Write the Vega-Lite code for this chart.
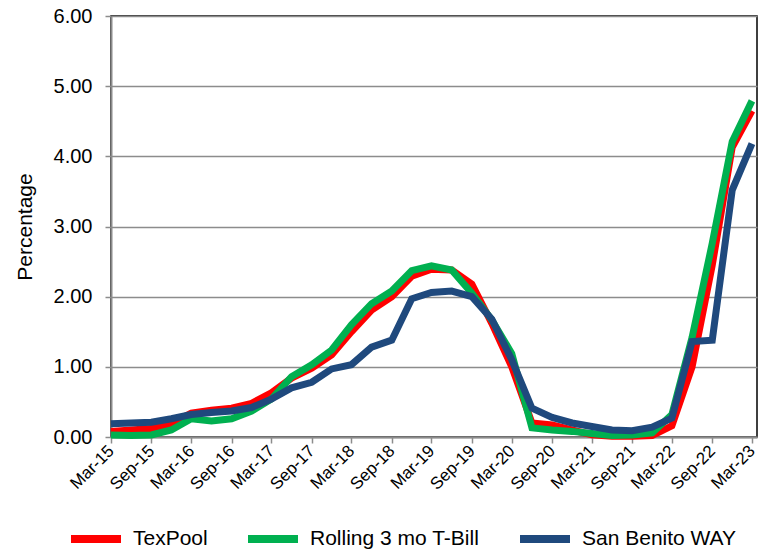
{
  "$schema": "https://vega.github.io/schema/vega-lite/v6.json",
  "width": 646,
  "height": 421,
  "autosize": {"type": "none"},
  "padding": {"left": 111, "top": 16, "right": 5, "bottom": 116},
  "background": "white",
  "config": {
    "font": "Liberation Sans",
    "view": {"stroke": "#000000", "strokeWidth": 1.5}
  },
  "data": {
    "values": [
      {"date": "2015-03-01", "TexPool": 0.08, "Rolling 3 mo T-Bill": 0.03, "San Benito WAY": 0.19},
      {"date": "2015-06-01", "TexPool": 0.10, "Rolling 3 mo T-Bill": 0.02, "San Benito WAY": 0.20},
      {"date": "2015-09-01", "TexPool": 0.12, "Rolling 3 mo T-Bill": 0.03, "San Benito WAY": 0.21},
      {"date": "2015-12-01", "TexPool": 0.19, "Rolling 3 mo T-Bill": 0.10, "San Benito WAY": 0.26},
      {"date": "2016-03-01", "TexPool": 0.34, "Rolling 3 mo T-Bill": 0.26, "San Benito WAY": 0.32},
      {"date": "2016-06-01", "TexPool": 0.38, "Rolling 3 mo T-Bill": 0.23, "San Benito WAY": 0.35},
      {"date": "2016-09-01", "TexPool": 0.41, "Rolling 3 mo T-Bill": 0.26, "San Benito WAY": 0.37},
      {"date": "2016-12-01", "TexPool": 0.48, "Rolling 3 mo T-Bill": 0.37, "San Benito WAY": 0.42},
      {"date": "2017-03-01", "TexPool": 0.63, "Rolling 3 mo T-Bill": 0.54, "San Benito WAY": 0.54},
      {"date": "2017-06-01", "TexPool": 0.84, "Rolling 3 mo T-Bill": 0.86, "San Benito WAY": 0.70},
      {"date": "2017-09-01", "TexPool": 0.98, "Rolling 3 mo T-Bill": 1.03, "San Benito WAY": 0.78},
      {"date": "2017-12-01", "TexPool": 1.17, "Rolling 3 mo T-Bill": 1.24, "San Benito WAY": 0.97},
      {"date": "2018-03-01", "TexPool": 1.50, "Rolling 3 mo T-Bill": 1.60, "San Benito WAY": 1.03},
      {"date": "2018-06-01", "TexPool": 1.81, "Rolling 3 mo T-Bill": 1.90, "San Benito WAY": 1.28},
      {"date": "2018-09-01", "TexPool": 2.00, "Rolling 3 mo T-Bill": 2.08, "San Benito WAY": 1.38},
      {"date": "2018-12-01", "TexPool": 2.29, "Rolling 3 mo T-Bill": 2.37, "San Benito WAY": 1.97},
      {"date": "2019-03-01", "TexPool": 2.39, "Rolling 3 mo T-Bill": 2.44, "San Benito WAY": 2.06},
      {"date": "2019-06-01", "TexPool": 2.38, "Rolling 3 mo T-Bill": 2.38, "San Benito WAY": 2.08},
      {"date": "2019-09-01", "TexPool": 2.18, "Rolling 3 mo T-Bill": 2.05, "San Benito WAY": 2.00},
      {"date": "2019-12-01", "TexPool": 1.62, "Rolling 3 mo T-Bill": 1.67, "San Benito WAY": 1.68},
      {"date": "2020-03-01", "TexPool": 1.00, "Rolling 3 mo T-Bill": 1.19, "San Benito WAY": 1.10},
      {"date": "2020-06-01", "TexPool": 0.20, "Rolling 3 mo T-Bill": 0.13, "San Benito WAY": 0.41},
      {"date": "2020-09-01", "TexPool": 0.17, "Rolling 3 mo T-Bill": 0.10, "San Benito WAY": 0.28},
      {"date": "2020-12-01", "TexPool": 0.10, "Rolling 3 mo T-Bill": 0.08, "San Benito WAY": 0.20},
      {"date": "2021-03-01", "TexPool": 0.03, "Rolling 3 mo T-Bill": 0.05, "San Benito WAY": 0.15},
      {"date": "2021-06-01", "TexPool": 0.01, "Rolling 3 mo T-Bill": 0.02, "San Benito WAY": 0.10},
      {"date": "2021-09-01", "TexPool": 0.01, "Rolling 3 mo T-Bill": 0.03, "San Benito WAY": 0.09},
      {"date": "2021-12-01", "TexPool": 0.02, "Rolling 3 mo T-Bill": 0.06, "San Benito WAY": 0.14},
      {"date": "2022-03-01", "TexPool": 0.16, "Rolling 3 mo T-Bill": 0.32, "San Benito WAY": 0.27},
      {"date": "2022-06-01", "TexPool": 1.00, "Rolling 3 mo T-Bill": 1.42, "San Benito WAY": 1.36},
      {"date": "2022-09-01", "TexPool": 2.45, "Rolling 3 mo T-Bill": 2.76, "San Benito WAY": 1.38},
      {"date": "2022-12-01", "TexPool": 4.13, "Rolling 3 mo T-Bill": 4.21, "San Benito WAY": 3.52},
      {"date": "2023-03-01", "TexPool": 4.65, "Rolling 3 mo T-Bill": 4.79, "San Benito WAY": 4.18}
    ]
  },
  "transform": [
    {"fold": ["TexPool", "Rolling 3 mo T-Bill", "San Benito WAY"], "as": ["series", "value"]}
  ],
  "mark": {"type": "line", "strokeWidth": 7},
  "encoding": {
    "x": {
      "field": "date",
      "type": "temporal",
      "scale": {"type": "utc", "domain": ["2015-03-01", "2023-03-24"]},
      "axis": {
        "title": null,
        "grid": false,
        "values": ["2015-03-01", "2015-09-01", "2016-03-01", "2016-09-01", "2017-03-01", "2017-09-01", "2018-03-01", "2018-09-01", "2019-03-01", "2019-09-01", "2020-03-01", "2020-09-01", "2021-03-01", "2021-09-01", "2022-03-01", "2022-09-01", "2023-03-01"],
        "format": "%b-%y",
        "labelAngle": -45,
        "labelAlign": "right",
        "labelBaseline": "middle",
        "labelFontSize": 17,
        "labelColor": "#000000",
        "labelPadding": 5,
        "labelOverlap": false,
        "labelFlush": false,
        "domainColor": "#8c8c8c",
        "domainWidth": 2,
        "tickColor": "#8c8c8c",
        "tickWidth": 1.5,
        "tickSize": 6
      }
    },
    "y": {
      "field": "value",
      "type": "quantitative",
      "scale": {"domain": [0, 6], "nice": false},
      "axis": {
        "title": "Percentage",
        "titleFontSize": 21,
        "titleFontWeight": "normal",
        "titleColor": "#000000",
        "titleX": -76,
        "values": [0, 1, 2, 3, 4, 5, 6],
        "format": ".2f",
        "labelFontSize": 20,
        "labelColor": "#000000",
        "labelPadding": 13,
        "grid": true,
        "gridColor": "#8c8c8c",
        "gridWidth": 1.5,
        "domainColor": "#8c8c8c",
        "domainWidth": 2,
        "tickColor": "#8c8c8c",
        "tickWidth": 1.5,
        "tickSize": 6
      }
    },
    "color": {
      "field": "series",
      "type": "nominal",
      "sort": ["TexPool", "Rolling 3 mo T-Bill", "San Benito WAY"],
      "scale": {
        "domain": ["TexPool", "Rolling 3 mo T-Bill", "San Benito WAY"],
        "range": ["#ff0000", "#00b050", "#1f497d"]
      },
      "legend": {
        "title": null,
        "orient": "none",
        "direction": "horizontal",
        "columns": 3,
        "legendX": -44,
        "legendY": 494,
        "symbolType": "stroke",
        "symbolSize": 2500,
        "symbolStrokeWidth": 8,
        "labelFontSize": 21,
        "labelColor": "#000000",
        "labelOffset": 8,
        "columnPadding": 24,
        "labelLimit": 300
      }
    }
  }
}
